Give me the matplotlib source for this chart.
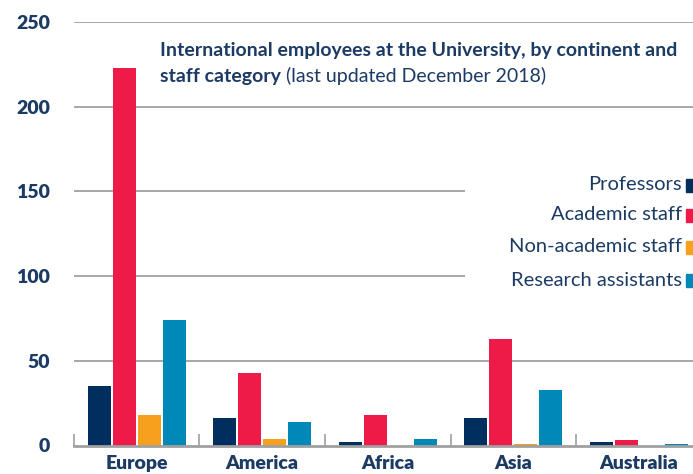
import matplotlib
matplotlib.use("Agg")
import matplotlib.pyplot as plt
import numpy as np
from matplotlib.patches import Rectangle

continents = ["Europe", "America", "Africa", "Asia", "Australia"]
professors = [35, 16, 2, 16, 2]
academic = [223, 43, 18, 63, 3]
non_academic = [18, 4, 0, 1, 0]
research = [74, 14, 4, 33, 1]

series = ["Professors", "Academic staff", "Non-academic staff", "Research assistants"]
colors = ["#002f5f", "#ee1b48", "#f7a01e", "#0088b8"]
navy = "#1b3a64"
grid_c = "#a0a0a0"

plt.rcParams["font.family"] = ["Lato", "DejaVu Sans"]

fig = plt.figure(figsize=(6.93, 4.74), dpi=100)
ax = fig.add_axes([73.8 / 693, 28.5 / 474, (693 - 73.8) / 693, 423.5 / 474])

x = np.arange(len(continents))
step = 25 / 125.6
width = 23 / 125.6
for k, vals in enumerate([professors, academic, non_academic, research]):
    ax.bar(x + (k - 1.5) * step, vals, width, color=colors[k], zorder=3)

ax.set_xlim(-0.5, (693 - 73.8) / 125.6 - 0.5)
ax.set_ylim(0, 250)

# gridlines (two stop short of the legend)
for y in [250, 200, 50]:
    ax.axhline(y, color=grid_c, lw=1.3, zorder=1)
for y in [150, 100]:
    ax.hlines(y, -0.5, (465 - 73.8) / 125.6 - 0.5, color=grid_c, lw=1.3, zorder=1)

for s in ["top", "right", "left"]:
    ax.spines[s].set_visible(False)
ax.spines["bottom"].set_color(grid_c)
ax.spines["bottom"].set_linewidth(2)
ax.spines["bottom"].set_zorder(4)

ax.set_yticks([0, 50, 100, 150, 200, 250])
ax.tick_params(axis="y", length=0, pad=17, labelsize=14, labelcolor=navy)
for lbl in ax.get_yticklabels():
    lbl.set_fontweight("heavy")

ax.set_xticks(x)
ax.set_xticklabels(continents, fontweight="heavy", fontsize=14, color=navy)
ax.tick_params(axis="x", length=0, pad=7)
ax.set_xticks(np.arange(len(continents)) - 0.5, minor=True)
ax.tick_params(axis="x", which="minor", direction="in", length=9, width=1.2, color=grid_c)

# title
t1 = fig.text(160 / 693, 1 - 56 / 474, "International employees at the University, by continent and",
              fontsize=14, fontweight="bold", color=navy, va="baseline")
t2 = fig.text(160 / 693, 1 - 82 / 474, "staff category",
              fontsize=14, fontweight="bold", color=navy, va="baseline")
ax.annotate(" (last updated December 2018)", xy=(1, 0), xycoords=t2, va="bottom",
            fontsize=14, color=navy, annotation_clip=False)

# legend
leg_y = [185, 215, 247, 280]
for name, c, yy in zip(series, colors, leg_y):
    fig.text(682 / 693, 1 - yy / 474, name, ha="right", va="center",
             fontsize=14.5, color=navy)
    fig.patches.append(Rectangle((686 / 693, 1 - (yy + 7) / 474), 8 / 693, 13 / 474,
                                 transform=fig.transFigure, color=c, figure=fig))

fig.savefig("out.png", dpi=100)
